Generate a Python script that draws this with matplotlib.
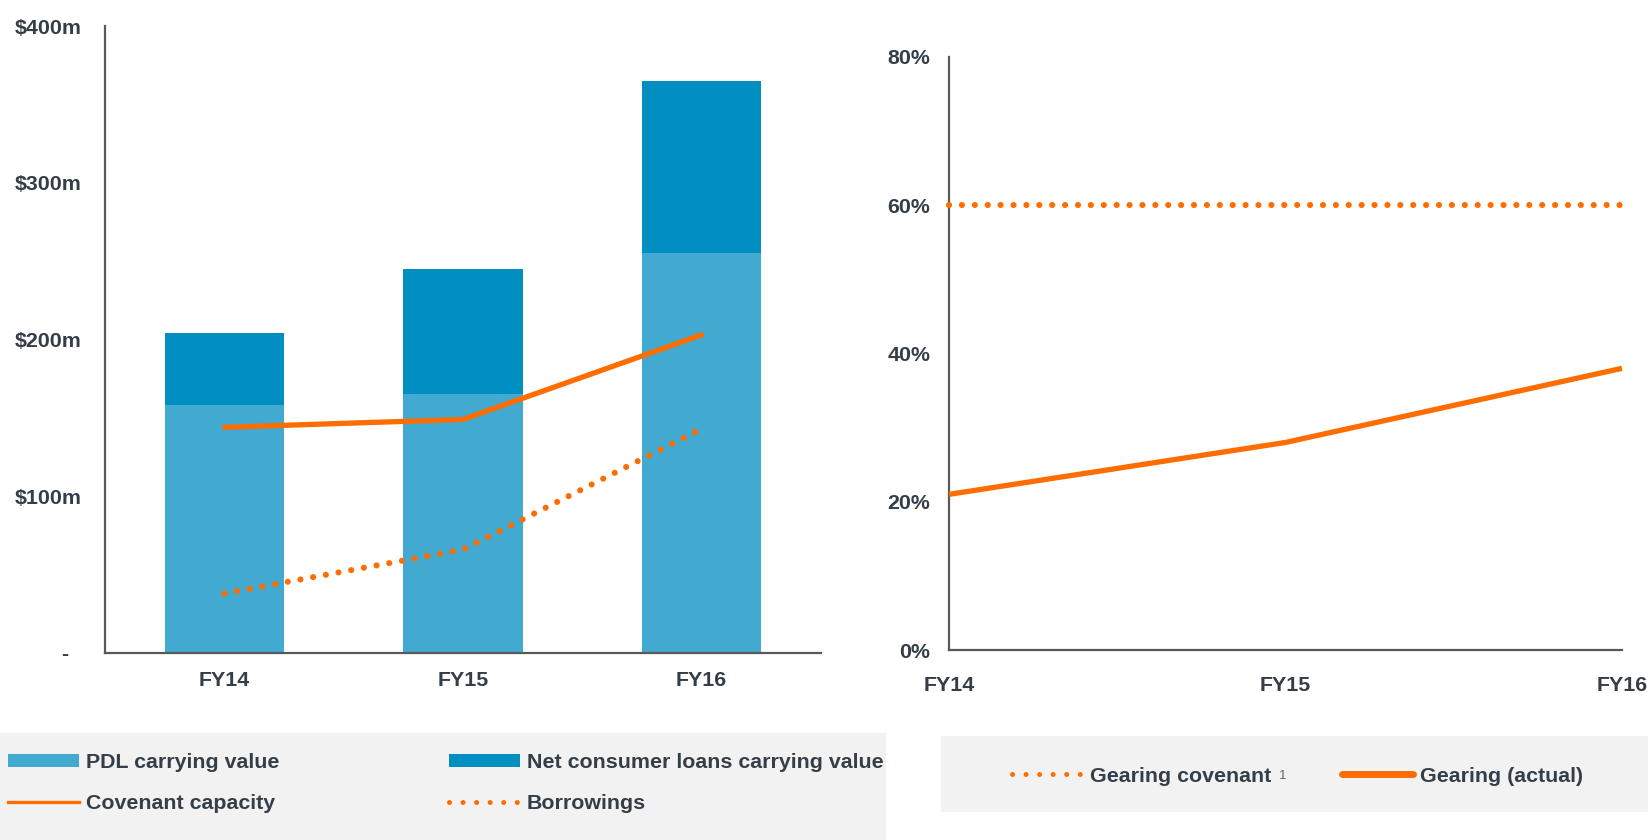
import matplotlib.pyplot as plt
from matplotlib.patches import Rectangle, Patch
from matplotlib.lines import Line2D

# data
years = ["FY14", "FY15", "FY16"]
pdl_value = [158, 165, 255]
net_consumer = [46, 80, 110]
covenant_capacity = [144, 149, 203]
borrowings = [38, 66, 143]
gearing_covenant = [60, 60, 60]
gearing_actual = [21, 28, 38]
money_ticks = [0, 100, 200, 300, 400]
money_labels = ["-  ", "$100m", "$200m", "$300m", "$400m"]
pct_ticks = [0, 20, 40, 60, 80]
pct_labels = ["0%", "20%", "40%", "60%", "80%"]

# colours
light_blue = "#42AAD0"
dark_blue = "#008FC0"
orange = "#FF6C00"
text_col = "#333E48"
spine_col = "#595959"
box_col = "#F2F2F2"

plt.rcParams["font.family"] = ["Liberation Sans", "DejaVu Sans"]
plt.rcParams["font.weight"] = "bold"
plt.rcParams["font.size"] = 15.4
plt.rcParams["text.color"] = text_col

fig = plt.figure(figsize=(16.48, 8.4), dpi=100)
W, H = 1648.0, 840.0

# legend backgrounds
fig.patches.append(Rectangle((0, 0), 886 / W, (840 - 733) / H, transform=fig.transFigure,
                             facecolor=box_col, edgecolor="none", zorder=0))
fig.patches.append(Rectangle((941 / W, 1 - 812 / H), (1648 - 941) / W, (812 - 736) / H,
                             transform=fig.transFigure, facecolor=box_col, edgecolor="none", zorder=0))

dots = (0, (0.01, 2.1))

# left chart
ax1 = fig.add_axes([105 / W, 1 - 653 / H, (821 - 105) / W, (653 - 26) / H])
x = list(range(len(years)))
ax1.bar(x, pdl_value, width=0.5, color=light_blue, zorder=2)
ax1.bar(x, net_consumer, width=0.5, bottom=pdl_value, color=dark_blue, zorder=2)
ax1.plot(x, covenant_capacity, color=orange, lw=3.8, solid_capstyle="round", zorder=3)
ax1.plot(x, borrowings, color=orange, lw=4.4, linestyle=dots,
         dash_capstyle="round", zorder=3)
ax1.set_xlim(-0.5, 2.5)
ax1.set_ylim(0, 400)
ax1.set_xticks(x)
ax1.set_xticklabels(years)
ax1.set_yticks(money_ticks)
ax1.set_yticklabels(money_labels)
ax1.tick_params(axis="y", length=0, pad=17, colors=text_col)
ax1.tick_params(axis="x", length=0, pad=13, colors=text_col)

# right chart
ax2 = fig.add_axes([949 / W, 1 - 650 / H, (1622 - 949) / W, (650 - 57) / H])
ax2.plot(x, gearing_covenant, color=orange, lw=4.4, linestyle=dots,
         dash_capstyle="round", clip_on=False, zorder=3)
ax2.plot(x, gearing_actual, color=orange, lw=3.8, solid_capstyle="butt", clip_on=False, zorder=3)
ax2.set_xlim(0, 2)
ax2.set_ylim(0, 80)
ax2.set_xticks(x)
ax2.set_xticklabels(years)
ax2.set_yticks(pct_ticks)
ax2.set_yticklabels(pct_labels)
ax2.tick_params(axis="y", length=0, pad=13.5, colors=text_col)
ax2.tick_params(axis="x", length=0, pad=19, colors=text_col)

for ax in (ax1, ax2):
    for side in ("top", "right"):
        ax.spines[side].set_visible(False)
    for side in ("left", "bottom"):
        ax.spines[side].set_color(spine_col)
        ax.spines[side].set_linewidth(1.6)
    ax.set_facecolor("none")

# left legend, two columns
leg_kw = dict(frameon=False, borderpad=0, borderaxespad=0, handlelength=3.3,
              handletextpad=0.35, labelspacing=1.05, handleheight=0.55, fontsize=15.4)
h_pdl = Patch(facecolor=light_blue, edgecolor="none")
h_net = Patch(facecolor=dark_blue, edgecolor="none")
h_cov = Line2D([], [], color=orange, lw=2.4)
h_bor = Line2D([], [], color=orange, lw=3.6, linestyle=(0, (0.01, 2.7)), dash_capstyle="round")
fig.legend([h_pdl, h_cov], ["PDL carrying value", "Covenant capacity"],
           loc="center left", bbox_to_anchor=(8 / W, 1 - 783 / H), **leg_kw)
fig.legend([h_net, h_bor], ["Net consumer loans carrying value", "Borrowings"],
           loc="center left", bbox_to_anchor=(449 / W, 1 - 783 / H), **leg_kw)

# right legend
h_gc = Line2D([], [], color=orange, lw=3.6, linestyle=(0, (0.01, 2.7)), dash_capstyle="round")
h_ga = Line2D([], [], color=orange, lw=5, solid_capstyle="round")
fig.legend([h_gc], ["Gearing covenant"], loc="center left",
           bbox_to_anchor=(1012 / W, 1 - 776 / H), **leg_kw)
fig.legend([h_ga], ["Gearing (actual)"], loc="center left",
           bbox_to_anchor=(1342 / W, 1 - 776 / H), **leg_kw)
fig.text(1279 / W, 1 - 776 / H, "1", fontsize=9.5, fontweight="normal", color="#666666",
         ha="left", va="center")

fig.savefig("out.png", dpi=100)
